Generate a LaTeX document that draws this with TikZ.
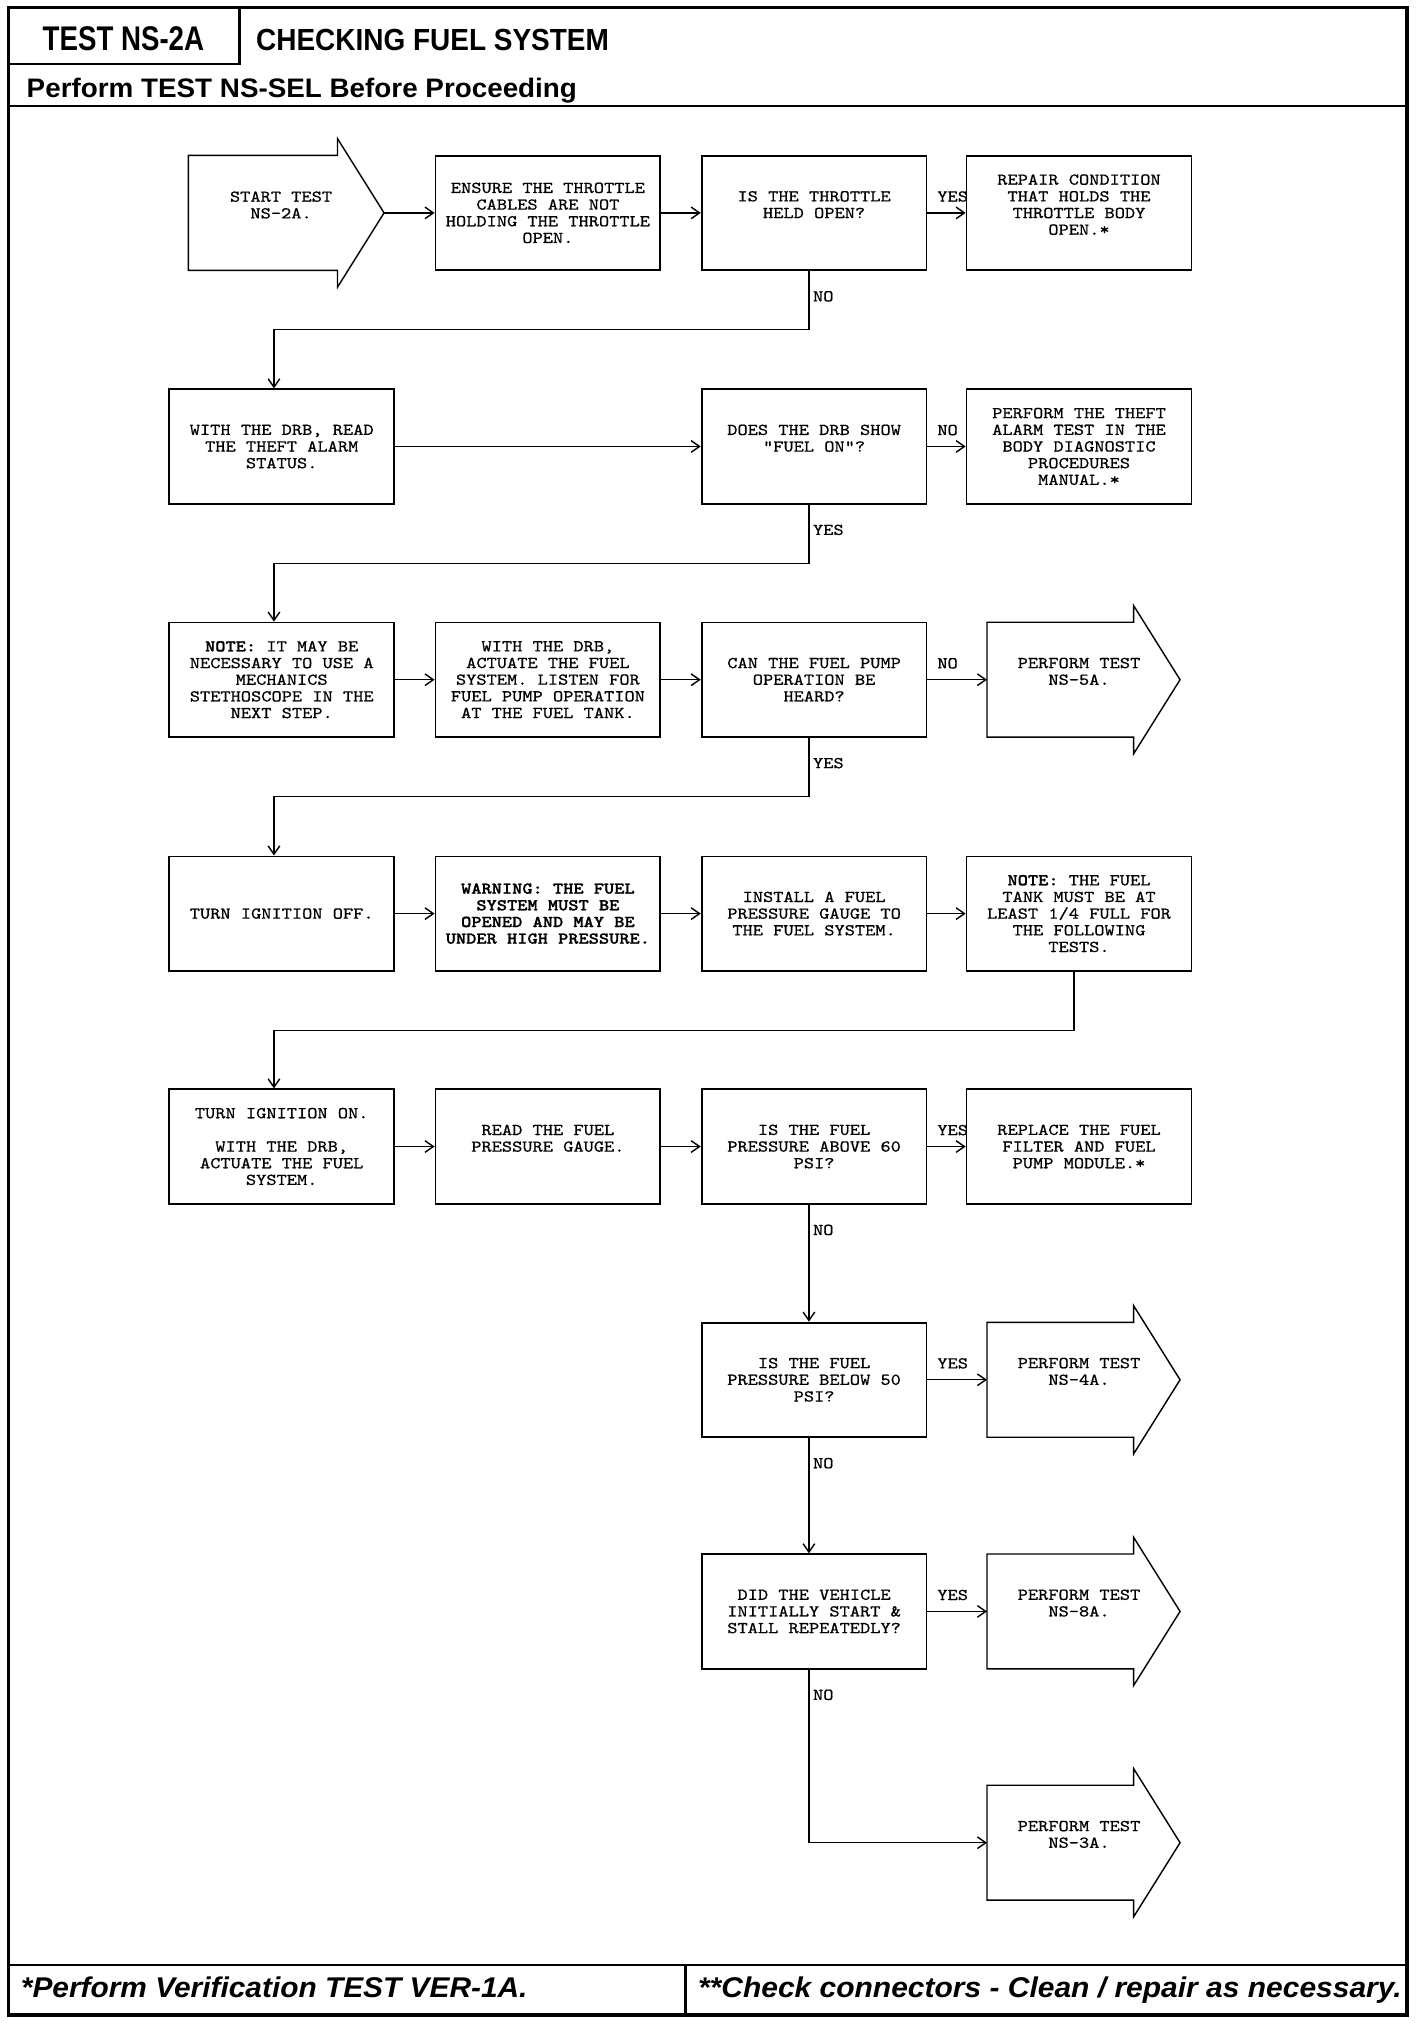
\documentclass[tikz,border=0pt]{standalone}
\usepackage{fontspec}
\usepackage{graphicx}
\usetikzlibrary{arrows.meta,calc}
\newfontfamily\hsans{Liberation Sans}
\newfontfamily\mono{lmmono10-regular.otf}[FakeStretch=1.176,FakeBold=0.7]
\newfontfamily\monob{lmmonolt10-bold.otf}[FakeStretch=1.176,FakeBold=1.2]
\newcommand\monosize{\mono\fontsize{12.8}{12.9}\selectfont}
\newcommand\monobsize{\monob\fontsize{12.8}{12.9}\selectfont}
\newcommand\bt[1]{{\monob #1}}
\newcommand\hdarrow[1]{\draw[outline] (#1.south west) -- (#1.north west) -- (#1.north east) -- ++(0,-13) -- ($(#1.east)+(36,0)$) -- ($(#1.south east)+(0,13)$) -- (#1.south east) -- cycle;}
\begin{document}
\begin{tikzpicture}[x=1pt,y=-1pt,
  box/.style={draw, line width=1.4pt, minimum width=174pt, minimum height=88.5pt, inner sep=0pt, align=center, font=\monosize},
  boldbox/.style={box, font=\monobsize},
  body/.style={minimum width=113pt, minimum height=88.5pt, inner sep=0pt},
  txt/.style={inner sep=0pt, align=center, font=\monosize},
  lbl/.style={inner sep=0pt, font=\monosize},
  conn/.style={draw, line width=1.1pt, -{Straight Barb[length=6.5pt,width=9pt]}},
  outline/.style={line width=1.1pt, line join=miter},
  frameline/.style={line width=2.4pt},
  headline/.style={line width=2pt},
  hdtext/.style={inner sep=0pt}]
\fill[white] (0,0) rectangle (1102,1566.3);
\useasboundingbox (0,0) rectangle (1102,1566.3);
% frame
\draw[frameline] (6.5,5.8) rectangle (1088.8,1559.3);
\draw[headline] (185.2,5.8) -- (185.2,49.5) -- (6.5,49.5);
\draw[headline] (6.5,82) -- (1088.8,82);
\draw[headline] (6.5,1520.7) -- (1088.8,1520.7);
\draw[headline] (530.5,1520.7) -- (530.5,1559.3);
% header texts
\node[hdtext, anchor=base] (hd1) at (95.5,39.2) {\resizebox{124.9pt}{18.5pt}{\hsans\bfseries TEST NS-2A}};
\node[hdtext, anchor=base west] (hd2) at (198,39.2) {\resizebox{273pt}{16.5pt}{\hsans\bfseries CHECKING FUEL SYSTEM}};
\node[hdtext, anchor=base west] (hd3) at (20.5,75.5) {\resizebox{425.8pt}{15pt}{\hsans\bfseries Perform TEST NS-SEL Before Proceeding}};
\node[hdtext, anchor=base west] (ft1) at (16,1546) {\resizebox{392pt}{16pt}{\hsans\bfseries\itshape *Perform Verification TEST VER-1A.}};
\node[hdtext, anchor=base west] (ft2) at (540,1546) {\resizebox{544.5pt}{16pt}{\hsans\bfseries\itshape **Check connectors - Clean / repair as necessary.}};

% row 1
\node[body, minimum width=115pt] (a1) at (203.5,164.75) {};
\hdarrow{a1}
\coordinate (a1tip) at ($(a1.east)+(36,0)$);
\node[txt] (a1t) at ($(a1)+(14,-6.1)$) {START TEST\\NS-2A.};
\node[box] (b1) at (424,164.75) {ENSURE THE THROTTLE\\CABLES ARE NOT\\HOLDING THE THROTTLE\\OPEN.};
\node[box] (c1) at (630,164.75) {IS THE THROTTLE\\HELD OPEN?\\\mbox{}};
\node[box] (d1) at (835,164.75) {REPAIR CONDITION\\THAT HOLDS THE\\THROTTLE BODY\\OPEN.*\\\mbox{}};
% row 2
\node[box] (a2) at (218,345.5) {WITH THE DRB, READ\\THE THEFT ALARM\\STATUS.};
\node[box] (c2) at (630,345.5) {DOES THE DRB SHOW\\"FUEL ON"?\\\mbox{}};
\node[box] (d2) at (835,345.5) {PERFORM THE THEFT\\ALARM TEST IN THE\\BODY DIAGNOSTIC\\PROCEDURES\\MANUAL.*};
% row 3
\node[box] (a3) at (218,526) {\bt{NOTE:} IT MAY BE\\NECESSARY TO USE A\\MECHANICS\\STETHOSCOPE IN THE\\NEXT STEP.};
\node[box] (b3) at (424,526) {WITH THE DRB,\\ACTUATE THE FUEL\\SYSTEM. LISTEN FOR\\FUEL PUMP OPERATION\\AT THE FUEL TANK.};
\node[box] (c3) at (630,526) {CAN THE FUEL PUMP\\OPERATION BE\\HEARD?};
\node[body] (d3) at (820.5,526) {};
\hdarrow{d3}
\node[txt] (d3t) at ($(d3)+(14.5,-6.45)$) {PERFORM TEST\\NS-5A.};
% row 4
\node[box] (a4) at (218,707) {TURN IGNITION OFF.};
\node[boldbox] (b4) at (424,707) {WARNING: THE FUEL\\SYSTEM MUST BE\\OPENED AND MAY BE\\UNDER HIGH PRESSURE.};
\node[box] (c4) at (630,707) {INSTALL A FUEL\\PRESSURE GAUGE TO\\THE FUEL SYSTEM.};
\node[box] (d4) at (835,707) {\bt{NOTE:} THE FUEL\\TANK MUST BE AT\\LEAST 1/4 FULL FOR\\THE FOLLOWING\\TESTS.};
% row 5
\node[box] (a5) at (218,887.25) {TURN IGNITION ON.\\[12.9pt]WITH THE DRB,\\ACTUATE THE FUEL\\SYSTEM.};
\node[box] (b5) at (424,887.25) {READ THE FUEL\\PRESSURE GAUGE.\\\mbox{}};
\node[box] (c5) at (630,887.25) {IS THE FUEL\\PRESSURE ABOVE 60\\PSI?};
\node[box] (d5) at (835,887.25) {REPLACE THE FUEL\\FILTER AND FUEL\\PUMP MODULE.*};
% row 6
\node[box] (c6) at (630,1067.75) {IS THE FUEL\\PRESSURE BELOW 50\\PSI?};
\node[body] (d6) at (820.5,1067.75) {};
\hdarrow{d6}
\node[txt] (d6t) at ($(d6)+(14.5,-6.45)$) {PERFORM TEST\\NS-4A.};
% row 7
\node[box] (c7) at (630,1247) {DID THE VEHICLE\\INITIALLY START \&\\STALL REPEATEDLY?};
\node[body] (d7) at (820.5,1247) {};
\hdarrow{d7}
\node[txt] (d7t) at ($(d7)+(14.5,-6.45)$) {PERFORM TEST\\NS-8A.};
% row 8
\node[body] (d8) at (820.5,1426) {};
\hdarrow{d8}
\node[txt] (d8t) at ($(d8)+(14.5,-6.45)$) {PERFORM TEST\\NS-3A.};

% connectors
\draw[conn] (a1tip) -- (b1.west);
\draw[conn] (b1.east) -- (c1.west);
\draw[conn] (c1.east) -- (d1.west);
\node[lbl, anchor=west] (l1) at ([xshift=7.5pt, yshift=12.7pt]c1.east) {YES};
\draw[conn] ([xshift=-4pt]c1.south) -- ++(0,45.5) -| ([xshift=-6pt]a2.north);
\node[lbl, anchor=west] (l2) at ([xshift=-1pt, yshift=-19.6pt]c1.south) {NO};

\draw[conn] (a2.east) -- (c2.west);
\draw[conn] (c2.east) -- (d2.west);
\node[lbl, anchor=west] (l3) at ([xshift=7.5pt, yshift=12.7pt]c2.east) {NO};
\draw[conn] ([xshift=-4pt]c2.south) -- ++(0,45.5) -| ([xshift=-6pt]a3.north);
\node[lbl, anchor=west] (l4) at ([xshift=-1pt, yshift=-19.6pt]c2.south) {YES};

\draw[conn] (a3.east) -- (b3.west);
\draw[conn] (b3.east) -- (c3.west);
\draw[conn] (c3.east) -- (d3.west);
\node[lbl, anchor=west] (l5) at ([xshift=7.5pt, yshift=12.7pt]c3.east) {NO};
\draw[conn] ([xshift=-4pt]c3.south) -- ++(0,45.5) -| ([xshift=-6pt]a4.north);
\node[lbl, anchor=west] (l6) at ([xshift=-1pt, yshift=-19.6pt]c3.south) {YES};

\draw[conn] (a4.east) -- (b4.west);
\draw[conn] (b4.east) -- (c4.west);
\draw[conn] (c4.east) -- (d4.west);
\draw[conn] ([xshift=-4pt]d4.south) -- ++(0,45.5) -| ([xshift=-6pt]a5.north);

\draw[conn] (a5.east) -- (b5.west);
\draw[conn] (b5.east) -- (c5.west);
\draw[conn] (c5.east) -- (d5.west);
\node[lbl, anchor=west] (l7) at ([xshift=7.5pt, yshift=12.7pt]c5.east) {YES};
\draw[conn] ([xshift=-4pt]c5.south) -- ([xshift=-4pt]c6.north);
\node[lbl, anchor=west] (l8) at ([xshift=-1pt, yshift=-19.6pt]c5.south) {NO};

\draw[conn] (c6.east) -- (d6.west);
\node[lbl, anchor=west] (l9) at ([xshift=7.5pt, yshift=12.7pt]c6.east) {YES};
\draw[conn] ([xshift=-4pt]c6.south) -- ([xshift=-4pt]c7.north);
\node[lbl, anchor=west] (l10) at ([xshift=-1pt, yshift=-19.6pt]c6.south) {NO};

\draw[conn] (c7.east) -- (d7.west);
\node[lbl, anchor=west] (l11) at ([xshift=7.5pt, yshift=12.7pt]c7.east) {YES};
\draw[conn] ([xshift=-4pt]c7.south) |- (d8.west);
\node[lbl, anchor=west] (l12) at ([xshift=-1pt, yshift=-19.6pt]c7.south) {NO};
\end{tikzpicture}
\end{document}
